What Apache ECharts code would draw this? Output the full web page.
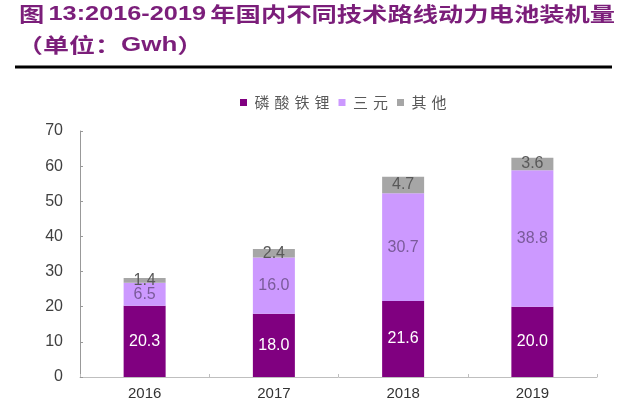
<!DOCTYPE html>
<html><head><meta charset="utf-8">
<script src="https://cdn.jsdelivr.net/npm/echarts@6/dist/echarts.min.js"></script>
<style>html,body{margin:0;padding:0;background:#fff}#c{width:618px;height:417px}</style>
</head><body><div id="c"></div>
<script>
const categories = ['2016', '2017', '2018', '2019'];
const lfp = [20.3, 18.0, 21.6, 20.0];
const ncm = [6.5, 16.0, 30.7, 38.8];
const other = [1.4, 2.4, 4.7, 3.6];
const yTicks = [0, 10, 20, 30, 40, 50, 60, 70];
const titleLine1 = ['图', '13:2016-2019', '年国内不同技术路线动力电池装机量'];
const titleLine2 = ['（单位：', 'Gwh', '）'];
const seriesNames = ['磷酸铁锂', '三元', '其他'];

const chart = echarts.init(document.getElementById('c'));
const lblFont = 'Liberation Sans, Arial, sans-serif';
const tColor = '#7B1E7A';
const titleRich = {
  g: { fontSize: 20, fontWeight: 'bold', fill: tColor, color: tColor, fontFamily: 'Noto Sans CJK SC' },
  n: { fontSize: 20, fontWeight: 'bold', fill: tColor, color: tColor, fontFamily: 'Liberation Sans' }
};
chart.setOption({
  animation: false,
  graphic: [{
    type: 'text', left: 19, top: 4, scaleX: 1.265,
    style: {
      text: '{g|' + titleLine1[0] + '} {n|' + titleLine1[1] + '} {g|' + titleLine1[2] + '}',
      rich: titleRich, fill: tColor
    }
  }, {
    type: 'text', left: 17, top: 35, scaleX: 1.3,
    style: {
      text: '{g|' + titleLine2[0] + '}{n|' + titleLine2[1] + '}{g|' + titleLine2[2] + '}',
      rich: titleRich, fill: tColor
    }
  }, {
    type: 'line', shape: { x1: 15, y1: 67, x2: 612, y2: 67 },
    style: { stroke: '#000', lineWidth: 3 }
  }],
  legend: {
    top: 90, left: 235, itemWidth: 7, itemHeight: 7, itemGap: 9,
    icon: 'rect',
    formatter: name => name.split('').map(ch => '{l|' + ch + '}').join(''),
    textStyle: { color: '#595959', fontSize: 15, fontFamily: 'Noto Sans CJK SC',
      rich: { l: { fontSize: 15, color: '#595959', fontFamily: 'Noto Sans CJK SC', width: 20, align: 'center' } } },
    data: seriesNames
  },
  grid: { left: 80, right: 21, top: 131, bottom: 40 },
  xAxis: {
    type: 'category', data: categories,
    axisLine: { lineStyle: { color: '#BFBFBF' } },
    axisTick: { show: true, inside: true, length: 3, lineStyle: { color: '#BFBFBF' } },
    axisLabel: { color: '#333', fontSize: 15, fontFamily: lblFont, margin: 9 }
  },
  yAxis: {
    type: 'value', min: yTicks[0], max: yTicks[yTicks.length - 1], interval: 10,
    splitLine: { show: false },
    axisLine: { show: true, lineStyle: { color: '#999' } },
    axisTick: { show: true, inside: true, length: 3, lineStyle: { color: '#999' } },
    axisLabel: { color: '#404040', fontSize: 16, fontFamily: lblFont, margin: 17 }
  },
  series: [
    { name: seriesNames[0], type: 'bar', stack: 's', data: lfp, barWidth: 42,
      itemStyle: { color: '#800080' },
      label: { show: true, position: 'inside', color: '#fff', fontSize: 16, fontFamily: lblFont, formatter: p => p.value.toFixed(1) } },
    { name: seriesNames[1], type: 'bar', stack: 's', data: ncm, barWidth: 42,
      itemStyle: { color: '#CC99FF' },
      label: { show: true, position: 'inside', color: '#7A5A9A', fontSize: 16, fontFamily: lblFont, formatter: p => p.value.toFixed(1) } },
    { name: seriesNames[2], type: 'bar', stack: 's', data: other, barWidth: 42,
      itemStyle: { color: '#A6A6A6' },
      label: { show: true, position: 'inside', color: '#595959', fontSize: 16, fontFamily: lblFont, formatter: p => p.value.toFixed(1) } }
  ]
});
</script></body></html>
